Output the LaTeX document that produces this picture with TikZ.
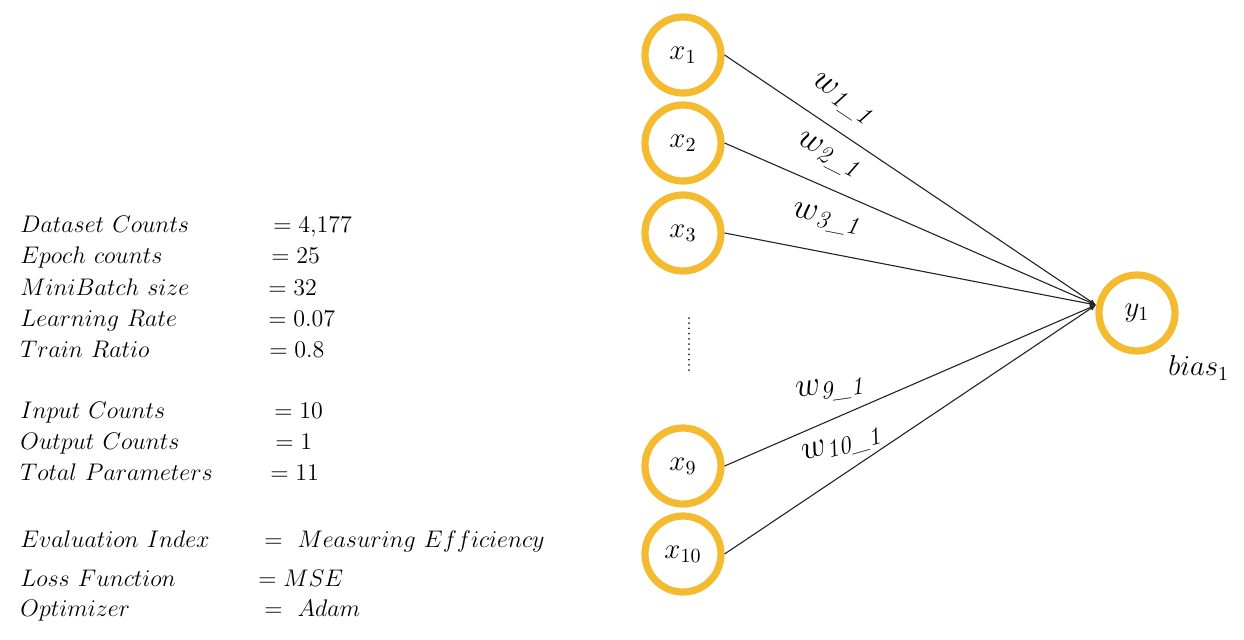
\documentclass[tikz,border=0pt]{standalone}
\usetikzlibrary{arrows.meta}
\definecolor{ring}{RGB}{244,186,48}
\definecolor{ink}{RGB}{35,35,35}
\newcommand{\wsub}[1]{\mbox{\fontsize{12.5}{13}\selectfont\itshape #1}}
\begin{document}
\begin{tikzpicture}[x=0.5pt,y=-0.5pt,
  neuron/.style={circle,draw=ring,line width=3.6pt,minimum size=38pt,inner sep=0pt,font=\fontsize{14.5}{16}\selectfont},
  wire/.style={draw=ink,line width=0.55pt,-{Latex[length=3pt,width=2.6pt]}},
  wlabel/.style={font=\fontsize{16.5}{18}\selectfont,inner sep=1pt},
  param/.style={anchor=base west,inner sep=0pt,font=\fontsize{12.6}{14}\selectfont}]
\useasboundingbox (0,0) rectangle (1244,639);
% neurons
\node[neuron] (x1) at (683,55) {$x_1$};
\node[neuron] (x2) at (683,143) {$x_2$};
\node[neuron] (x3) at (683,233) {$x_3$};
\node[neuron] (x9) at (683,466) {$x_9$};
\node[neuron] (x10) at (683,554) {$x_{10}$};
\node[neuron] (y1) at (1137,313) {$y_1$};
\node[anchor=west,inner sep=0pt,font=\fontsize{14}{16}\selectfont] (bias) at (1168,368) {$bias_1$};
\coordinate (c) at (1096,305);
% wires
\draw[wire] (x1.east) -- (c);
\draw[wire] (x2.east) -- (c);
\draw[wire] (x3.east) -- (c);
\draw[wire] (x9.east) -- (c);
\draw[wire] (x10.east) -- (c);
% dots
\coordinate (d1) at (689,318);
\coordinate (d2) at (689,370);
\draw[ink,line width=1pt,line cap=round,dash pattern=on 0pt off 2.6pt] (d1) -- (d2);
% weight labels
\node[wlabel,rotate=-34] (w1) at (842,100) {$w_{\wsub{1\_1}}$};
\node[wlabel,rotate=-27] (w2) at (828,156) {$w_{\wsub{2\_1}}$};
\node[wlabel,rotate=-11] (w3) at (826,220) {$w_{\wsub{3\_1}}$};
\node[wlabel,rotate=8] (w9) at (830,390) {$w_{\wsub{9\_1}}$};
\node[wlabel,rotate=16] (w10) at (842,446) {$w_{\wsub{10\_1}}$};
% parameters
\node[param] (l1) at (20,232) {$Dataset\ Counts$};
\node[param] (v1) at (273,232) {$=4{,}177$};
\node[param] (l2) at (20,263) {$Epoch\ counts$};
\node[param] (v2) at (271,263) {$=25$};
\node[param] (l3) at (20,295) {$MiniBatch\ size$};
\node[param] (v3) at (268,295) {$=32$};
\node[param] (l4) at (20,326) {$Learning\ Rate$};
\node[param] (v4) at (268,326) {$=0.07$};
\node[param] (l5) at (20,357) {$Train\ Ratio$};
\node[param] (v5) at (269,357) {$=0.8$};
\node[param] (l6) at (20,418) {$Input\ Counts$};
\node[param] (v6) at (274,418) {$=10$};
\node[param] (l7) at (20,449) {$Output\ Counts$};
\node[param] (v7) at (275,449) {$=1$};
\node[param] (l8) at (20,480) {$Total\ Parameters$};
\node[param] (v8) at (270,480) {$=11$};
\node[param] (l9) at (20,547) {$Evaluation\ Index$};
\node[param] (v9) at (264,547) {$=\ Measuring\ Efficiency$};
\node[param] (l10) at (20,586) {$Loss\ Function$};
\node[param] (v10) at (258,586) {$=MSE$};
\node[param] (l11) at (20,616) {$Optimizer$};
\node[param] (v11) at (264,616) {$=\ Adam$};
\end{tikzpicture}
\end{document}
